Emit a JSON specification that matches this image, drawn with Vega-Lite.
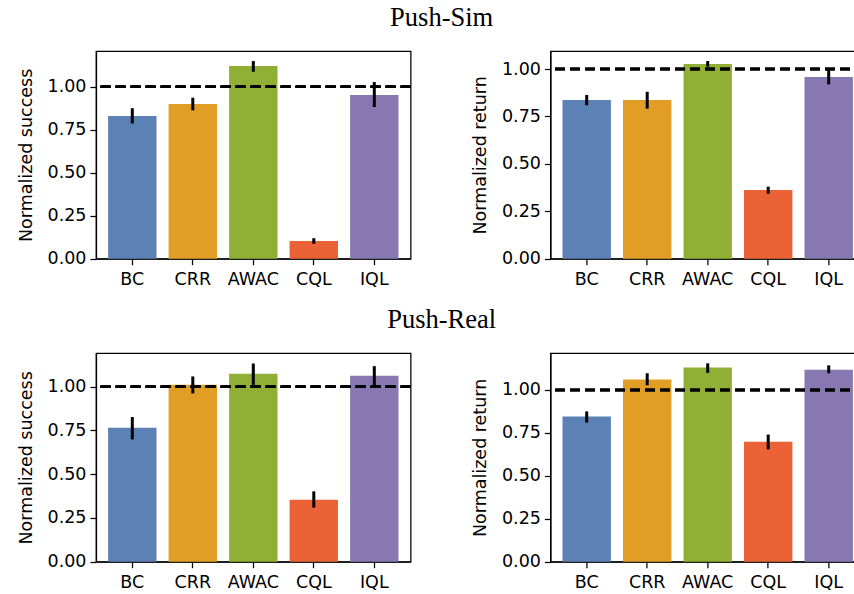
{
  "$schema": "https://vega.github.io/schema/vega-lite/v6.json",
  "padding": {"left": 16, "top": 4, "right": 0, "bottom": 0},
  "background": "white",
  "datasets": {
    "d": [
      {"panel": "sim_success", "method": "BC", "value": 0.83, "lo": 0.786, "hi": 0.875},
      {"panel": "sim_success", "method": "CRR", "value": 0.9, "lo": 0.863, "hi": 0.936},
      {"panel": "sim_success", "method": "AWAC", "value": 1.12, "lo": 1.087, "hi": 1.149},
      {"panel": "sim_success", "method": "CQL", "value": 0.103, "lo": 0.087, "hi": 0.119},
      {"panel": "sim_success", "method": "IQL", "value": 0.952, "lo": 0.882, "hi": 1.027},
      {"panel": "sim_return", "method": "BC", "value": 0.837, "lo": 0.809, "hi": 0.863},
      {"panel": "sim_return", "method": "CRR", "value": 0.837, "lo": 0.791, "hi": 0.88},
      {"panel": "sim_return", "method": "AWAC", "value": 1.026, "lo": 1.012, "hi": 1.042},
      {"panel": "sim_return", "method": "CQL", "value": 0.362, "lo": 0.343, "hi": 0.38},
      {"panel": "sim_return", "method": "IQL", "value": 0.958, "lo": 0.919, "hi": 0.998},
      {"panel": "real_success", "method": "BC", "value": 0.766, "lo": 0.699, "hi": 0.827},
      {"panel": "real_success", "method": "CRR", "value": 1.011, "lo": 0.962, "hi": 1.059},
      {"panel": "real_success", "method": "AWAC", "value": 1.074, "lo": 1.011, "hi": 1.133},
      {"panel": "real_success", "method": "CQL", "value": 0.354, "lo": 0.309, "hi": 0.402},
      {"panel": "real_success", "method": "IQL", "value": 1.063, "lo": 0.998, "hi": 1.118},
      {"panel": "real_return", "method": "BC", "value": 0.845, "lo": 0.81, "hi": 0.875},
      {"panel": "real_return", "method": "CRR", "value": 1.06, "lo": 1.027, "hi": 1.097},
      {"panel": "real_return", "method": "AWAC", "value": 1.13, "lo": 1.099, "hi": 1.155},
      {"panel": "real_return", "method": "CQL", "value": 0.699, "lo": 0.654, "hi": 0.74},
      {"panel": "real_return", "method": "IQL", "value": 1.118, "lo": 1.097, "hi": 1.143}
    ]
  },
  "data": {"name": "d"},
  "config": {
    "view": {"stroke": "black", "strokeWidth": 1.25},
    "axis": {
      "labelFont": "DejaVu Sans", "labelFontSize": 17.5, "labelColor": "black",
      "titleFont": "DejaVu Sans", "titleFontSize": 17.5, "titleFontWeight": "normal", "titleColor": "black",
      "domainColor": "black", "domainWidth": 1.25, "tickColor": "black", "tickWidth": 1.25, "tickSize": 6,
      "grid": false, "labelPadding": 4, "titlePadding": 12
    },
    "axisX": {"labelPadding": 6},
    "title": {"font": "Liberation Serif", "fontSize": 26.5, "fontWeight": "normal", "color": "black", "anchor": "middle", "offset": 19}
  },
  "spacing": 17,
  "vconcat": [
    {
      "title": "Push-Sim",
      "spacing": 139.4,
      "bounds": "flush",
      "hconcat": [
        {
          "width": 314.6, "height": 207.7,
          "transform": [{"filter": "datum.panel === 'sim_success'"}],
          "layer": [
            {"mark": {"type": "bar"},
             "encoding": {
               "x": {"field": "method", "type": "nominal", "sort": null, "scale": {"paddingInner": 0.2, "paddingOuter": 0.2}, "axis": {"title": null, "labelAngle": 0}},
               "y": {"field": "value", "type": "quantitative", "scale": {"domain": [0, 1.2075], "nice": false}, "axis": {"title": "Normalized success", "values": [0, 0.25, 0.5, 0.75, 1], "format": ".2f"}},
               "color": {"field": "method", "type": "nominal", "scale": {"domain": ["BC", "CRR", "AWAC", "CQL", "IQL"], "range": ["#5c81b5", "#e19d25", "#8fb035", "#ea6235", "#8778b2"]}, "legend": null}
             }},
            {"mark": {"type": "rule", "strokeWidth": 3, "color": "black"},
             "encoding": {"x": {"field": "method", "type": "nominal", "sort": null}, "y": {"field": "lo", "type": "quantitative"}, "y2": {"field": "hi"}}},
            {"mark": {"type": "rule", "strokeDash": [10, 5], "strokeWidth": 2.5, "color": "black"},
             "encoding": {"y": {"datum": 1}}}
          ]
        },
        {
          "width": 314.6, "height": 207.7,
          "transform": [{"filter": "datum.panel === 'sim_return'"}],
          "layer": [
            {"mark": {"type": "bar"},
             "encoding": {
               "x": {"field": "method", "type": "nominal", "sort": null, "scale": {"paddingInner": 0.2, "paddingOuter": 0.2}, "axis": {"title": null, "labelAngle": 0}},
               "y": {"field": "value", "type": "quantitative", "scale": {"domain": [0, 1.095], "nice": false}, "axis": {"title": "Normalized return", "values": [0, 0.25, 0.5, 0.75, 1], "format": ".2f"}},
               "color": {"field": "method", "type": "nominal", "scale": {"domain": ["BC", "CRR", "AWAC", "CQL", "IQL"], "range": ["#5c81b5", "#e19d25", "#8fb035", "#ea6235", "#8778b2"]}, "legend": null}
             }},
            {"mark": {"type": "rule", "strokeWidth": 3, "color": "black"},
             "encoding": {"x": {"field": "method", "type": "nominal", "sort": null}, "y": {"field": "lo", "type": "quantitative"}, "y2": {"field": "hi"}}},
            {"mark": {"type": "rule", "strokeDash": [10, 5], "strokeWidth": 2.5, "color": "black"},
             "encoding": {"y": {"datum": 1}}}
          ]
        }
      ]
    },
    {
      "title": "Push-Real",
      "spacing": 139.4,
      "bounds": "flush",
      "hconcat": [
        {
          "width": 314.6, "height": 208.7,
          "transform": [{"filter": "datum.panel === 'real_success'"}],
          "layer": [
            {"mark": {"type": "bar"},
             "encoding": {
               "x": {"field": "method", "type": "nominal", "sort": null, "scale": {"paddingInner": 0.2, "paddingOuter": 0.2}, "axis": {"title": null, "labelAngle": 0}},
               "y": {"field": "value", "type": "quantitative", "scale": {"domain": [0, 1.193], "nice": false}, "axis": {"title": "Normalized success", "values": [0, 0.25, 0.5, 0.75, 1], "format": ".2f"}},
               "color": {"field": "method", "type": "nominal", "scale": {"domain": ["BC", "CRR", "AWAC", "CQL", "IQL"], "range": ["#5c81b5", "#e19d25", "#8fb035", "#ea6235", "#8778b2"]}, "legend": null}
             }},
            {"mark": {"type": "rule", "strokeWidth": 3, "color": "black"},
             "encoding": {"x": {"field": "method", "type": "nominal", "sort": null}, "y": {"field": "lo", "type": "quantitative"}, "y2": {"field": "hi"}}},
            {"mark": {"type": "rule", "strokeDash": [10, 5], "strokeWidth": 2.5, "color": "black"},
             "encoding": {"y": {"datum": 1}}}
          ]
        },
        {
          "width": 314.6, "height": 208.7,
          "transform": [{"filter": "datum.panel === 'real_return'"}],
          "layer": [
            {"mark": {"type": "bar"},
             "encoding": {
               "x": {"field": "method", "type": "nominal", "sort": null, "scale": {"paddingInner": 0.2, "paddingOuter": 0.2}, "axis": {"title": null, "labelAngle": 0}},
               "y": {"field": "value", "type": "quantitative", "scale": {"domain": [0, 1.215], "nice": false}, "axis": {"title": "Normalized return", "values": [0, 0.25, 0.5, 0.75, 1], "format": ".2f"}},
               "color": {"field": "method", "type": "nominal", "scale": {"domain": ["BC", "CRR", "AWAC", "CQL", "IQL"], "range": ["#5c81b5", "#e19d25", "#8fb035", "#ea6235", "#8778b2"]}, "legend": null}
             }},
            {"mark": {"type": "rule", "strokeWidth": 3, "color": "black"},
             "encoding": {"x": {"field": "method", "type": "nominal", "sort": null}, "y": {"field": "lo", "type": "quantitative"}, "y2": {"field": "hi"}}},
            {"mark": {"type": "rule", "strokeDash": [10, 5], "strokeWidth": 2.5, "color": "black"},
             "encoding": {"y": {"datum": 1}}}
          ]
        }
      ]
    }
  ]
}
